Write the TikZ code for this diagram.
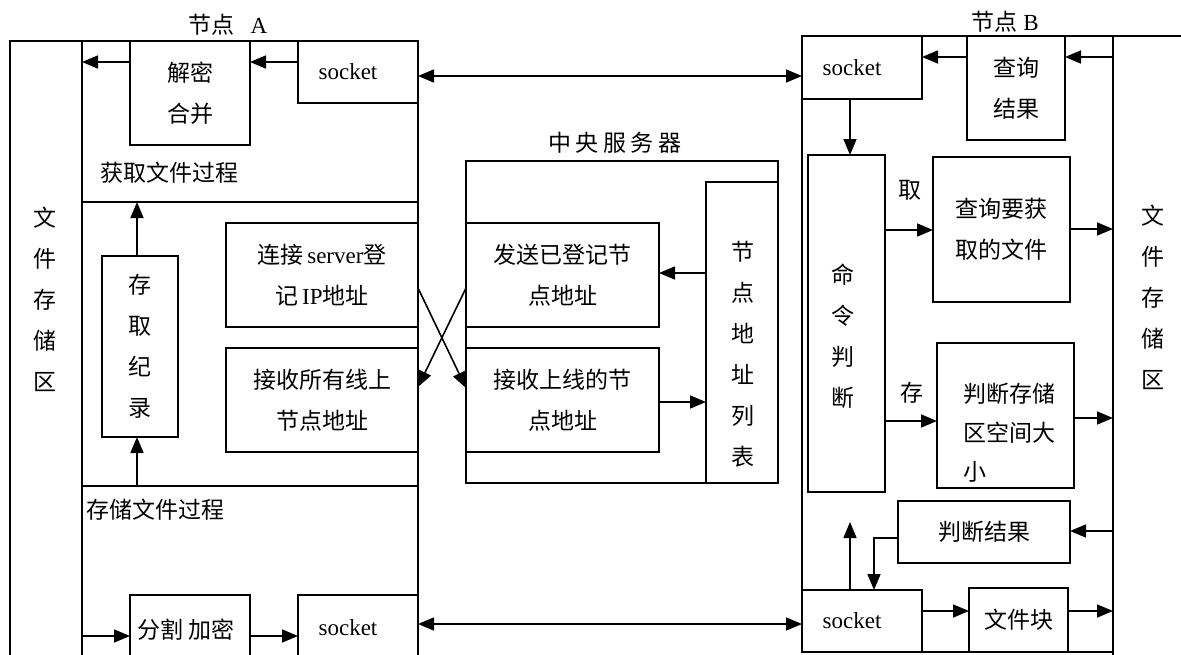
\documentclass[tikz,border=0pt]{standalone}
\usepackage{fontspec}
\setmainfont{Liberation Serif}
\newfontfamily\cjk{Noto Sans CJK SC}
\usetikzlibrary{arrows.meta}
\newcommand\fs{\fontsize{23}{41}\selectfont}
\newcommand\sockt{socket\rule{20pt}{0pt}}
\begin{document}
\begin{tikzpicture}[x=1pt,y=-1pt,
  box/.style={draw, line width=1.6pt, inner sep=0pt, outer sep=0pt, align=center, font=\fs},
  cbox/.style={box, font=\fs\cjk},
  arr/.style={line width=1.6pt, -{Triangle[length=16pt,width=13pt]}},
  darr/.style={line width=1.6pt, {Triangle[length=16pt,width=13pt]}-{Triangle[length=16pt,width=13pt]}},
  txt/.style={inner sep=0pt, align=center, font=\fs},
  ctxt/.style={txt, font=\fs\cjk}]
\useasboundingbox (0,0) rectangle (1181,654);
\clip (0,0) rectangle (1181,654);
% frames
\node[box, minimum width=72pt, minimum height=659pt] (lstore) at (46,370.5) {};
\node[box, minimum width=336pt, minimum height=161pt] (getp) at (250,121.5) {};
\node[box, minimum width=336pt, minimum height=284pt] (midA) at (250,344) {};
\node[box, minimum width=336pt, minimum height=214pt] (storep) at (250,593) {};
\node[box, minimum width=312pt, minimum height=322pt] (central) at (622,322) {};
\node[box, minimum width=311pt, minimum height=616pt] (nodeB) at (957.5,344) {};
\node[box, minimum width=87pt, minimum height=664pt] (rstore) at (1156.5,368) {};
% titles and labels
\node[txt] (titleA) at (228,25) {{\cjk 节点}\hspace{16pt}A};
\node[txt] (titleB) at (1005,22) {{\cjk 节点}\hspace{6pt}B};
\node[ctxt] (titleC) at (615,143) {中\hspace{4.5pt}央\hspace{4.5pt}服\hspace{4.5pt}务\hspace{4.5pt}器};
\node[ctxt, anchor=west] (getlbl) at (100,173) {获取文件过程};
\node[ctxt, anchor=west] (storelbl) at (86,510) {存储文件过程};
\node[ctxt] (ltext) at (45,299) {文\\件\\存\\储\\区};
\node[ctxt] (rtext) at (1153,297) {文\\件\\存\\储\\区};
% node A boxes
\node[cbox, minimum width=120pt, minimum height=104pt] (jm) at (190,93) {解密\\合并};
\node[box, minimum width=120pt, minimum height=62pt] (sockA1) at (358,72) {\sockt};
\node[cbox, minimum width=76pt, minimum height=181pt] (rec) at (140,346.5) {存\\取\\纪\\录};
\node[box, minimum width=192pt, minimum height=104pt] (conn) at (322,275) {{\cjk 连接}\,server{\cjk 登}\\{\cjk 记}\,IP{\cjk 地址}};
\node[cbox, minimum width=192pt, minimum height=104pt] (rall) at (322,400) {接收所有线上\\节点地址};
\node[cbox, minimum width=120pt, minimum height=70pt] (split) at (190,630) {分割\hspace{5pt}加密\rule{8pt}{0pt}};
\node[box, minimum width=120pt, minimum height=66pt] (sockA2) at (358,628) {\sockt};
% central server
\node[cbox, minimum width=193pt, minimum height=104pt] (send) at (562.5,275) {发送已登记节\\点地址};
\node[cbox, minimum width=193pt, minimum height=104pt] (ron) at (562.5,400) {接收上线的节\\点地址};
\node[box, minimum width=72pt, minimum height=301pt] (list) at (742,332.5) {};
\node[ctxt] (listtxt) at (743,354) {节\\点\\地\\址\\列\\表};
% node B
\node[box, minimum width=120pt, minimum height=63pt] (sockB1) at (862,67.5) {\sockt};
\node[cbox, minimum width=98pt, minimum height=104pt] (qres) at (1016,88) {查询\\结果};
\node[box, minimum width=77pt, minimum height=337pt] (cmd) at (846.5,323.5) {};
\node[ctxt] (cmdtxt) at (843,336) {命\\令\\判\\断};
\node[ctxt] (qu) at (910,190) {取};
\node[ctxt] (cun) at (912,393) {存};
\node[cbox, minimum width=137pt, minimum height=145pt] (query) at (1001.5,229.5) {查询要获\\取的文件};
\node[box, minimum width=137pt, minimum height=145pt] (judge) at (1005.5,415.5) {};
\node[txt, align=left, font=\fontsize{23}{39}\selectfont\cjk] (judgetxt) at (1009,433) {判断存储\\区空间大\\小};
\node[cbox, minimum width=172pt, minimum height=62pt] (jres) at (984,532) {判断结果};
\node[box, minimum width=120pt, minimum height=62pt] (sockB2) at (862,621) {\sockt};
\node[cbox, minimum width=99pt, minimum height=64pt] (fblk) at (1018.5,620) {文件块};
\coordinate (upend) at (850,522);
% connectors
\draw[arr] (sockA1.west |- 0,62) -- (jm.east |- 0,62);
\draw[arr] (jm.west |- 0,62) -- (getp.west |- 0,62);
\draw[darr] (sockA1.east |- 0,76) -- (sockB1.west |- 0,76);
\draw[arr] (rstore.west |- 0,57) -- (qres.east |- 0,57);
\draw[arr] (qres.west |- 0,57) -- (sockB1.east |- 0,57);
\draw[arr] (sockB1.south -| 850,0) -- (cmd.north -| 850,0);
\draw[arr] (cmd.east |- 0,230) -- (query.west |- 0,230);
\draw[arr] (query.east |- 0,229) -- (rstore.west |- 0,229);
\draw[arr] (cmd.east |- 0,421) -- (judge.west |- 0,421);
\draw[arr] (judge.east |- 0,418) -- (rstore.west |- 0,418);
\draw[arr] (rstore.west |- 0,531) -- (jres.east |- 0,531);
\draw[arr] (jres.west |- 0,538) -| (sockB2.north -| 874,0);
\draw[arr] (sockB2.north -| 850,0) -- (upend);
\draw[arr] (sockB2.east |- 0,611) -- (fblk.west |- 0,611);
\draw[arr] (fblk.east |- 0,611) -- (rstore.west |- 0,611);
\draw[darr] (sockA2.east |- 0,624) -- (sockB2.west |- 0,624);
\draw[arr] (storep.west |- 0,636) -- (split.west |- 0,636);
\draw[arr] (split.east |- 0,636) -- (sockA2.west |- 0,636);
\draw[arr] (rec.north -| 137,0) -- (getp.south -| 137,0);
\draw[arr] (storep.north -| 137,0) -- (rec.south -| 137,0);
\draw[arr] (list.west |- 0,273) -- (send.east |- 0,273);
\draw[arr] (ron.east |- 0,402) -- (list.west |- 0,402);
\draw[arr] (conn.east |- 0,288) -- (ron.west |- 0,388);
\draw[arr] (send.west |- 0,288) -- (rall.east |- 0,387);
\end{tikzpicture}
\end{document}
